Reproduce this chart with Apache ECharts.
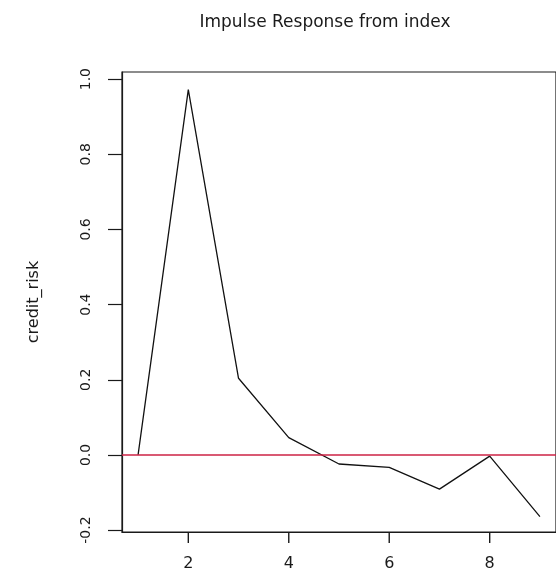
<!DOCTYPE html>
<html>
<head>
<meta charset="utf-8">
<script src="https://cdn.jsdelivr.net/npm/echarts@6/dist/echarts.min.js"></script>
<style>
html,body{margin:0;padding:0;background:#fff;}
#c{width:556px;height:576px;}
</style>
</head>
<body>
<div id="c"></div>
<script>
const titleText = "Impulse Response from index";
const yName = "credit_risk";
const steps = [1, 2, 3, 4, 5, 6, 7, 8, 9];
const response = [0, 0.972, 0.204, 0.046, -0.024, -0.033, -0.091, -0.003, -0.164];
const xTicks = [2, 4, 6, 8];
const yTicks = [-0.2, 0.0, 0.2, 0.4, 0.6, 0.8, 1.0];
const refLine = 0;
const xMin = 0.68, xMax = 9.32;
const yMin = -0.205, yMax = 1.019;

const chart = echarts.init(document.getElementById('c'), null, {renderer: 'canvas'});
const font = 'DejaVu Sans';
chart.setOption({
  animation: false,
  backgroundColor: '#ffffff',
  title: {
    text: titleText,
    left: 320,
    top: 9,
    textAlign: 'center',
    textStyle: {fontFamily: font, fontSize: 17, fontWeight: 'normal', color: '#1a1a1a'}
  },
  grid: [{
    left: 122, top: 72, width: 439, height: 460,
    show: true, borderColor: '#1a1a1a', borderWidth: 1.2, backgroundColor: 'transparent'
  }, {
    left: 122, top: 532, width: 439, height: 11, show: false
  }],
  xAxis: [{
    type: 'value',
    gridIndex: 0,
    min: xMin, max: xMax,
    axisLine: {show: true, onZero: false, lineStyle: {color: '#1a1a1a', width: 1.2}},
    axisTick: {show: false},
    axisLabel: {show: true, customValues: xTicks, margin: 24, fontFamily: font, fontSize: 16, color: '#1a1a1a'},
    splitLine: {show: false}
  }, {
    type: 'value', gridIndex: 1, min: xMin, max: xMax, show: false
  }],
  yAxis: [{
    type: 'value',
    gridIndex: 0,
    min: yMin, max: yMax,
    name: yName,
    nameLocation: 'middle',
    nameRotate: 90,
    nameGap: 80,
    nameTextStyle: {fontFamily: font, fontSize: 16, color: '#1a1a1a'},
    axisLine: {show: true, onZero: false, lineStyle: {color: '#1a1a1a', width: 1.2}},
    axisTick: {show: true, inside: false, length: 14, customValues: yTicks, lineStyle: {color: '#1a1a1a', width: 1.2}},
    axisLabel: {
      show: true, customValues: yTicks, rotate: 90, margin: 29,
      fontFamily: font, fontSize: 14, color: '#1a1a1a',
      formatter: v => v.toFixed(1)
    },
    splitLine: {show: false}
  }, {
    type: 'value', gridIndex: 1, min: 0, max: 1, show: false
  }],
  series: [{
    type: 'line',
    xAxisIndex: 0, yAxisIndex: 0,
    data: steps.map((s, i) => [s, response[i]]),
    showSymbol: false,
    symbol: 'none',
    lineStyle: {color: '#111', width: 1.3},
    markLine: {
      silent: true,
      symbol: ['none', 'none'],
      label: {show: false},
      lineStyle: {color: '#cc2244', width: 1.5, type: 'solid'},
      data: [{yAxis: refLine}]
    }
  }, {
    type: 'custom',
    xAxisIndex: 1, yAxisIndex: 1,
    silent: true,
    clip: false,
    z: 10,
    data: xTicks.map(v => [v, 1]),
    encode: {x: 0, y: 1},
    renderItem: (params, api) => {
      const a = api.coord([api.value(0), 1]);
      const b = api.coord([api.value(0), 0]);
      return {
        type: 'line',
        shape: {x1: a[0], y1: a[1], x2: b[0], y2: b[1]},
        style: {stroke: '#1a1a1a', lineWidth: 1.4}
      };
    }
  }]
});
</script>
</body>
</html>
